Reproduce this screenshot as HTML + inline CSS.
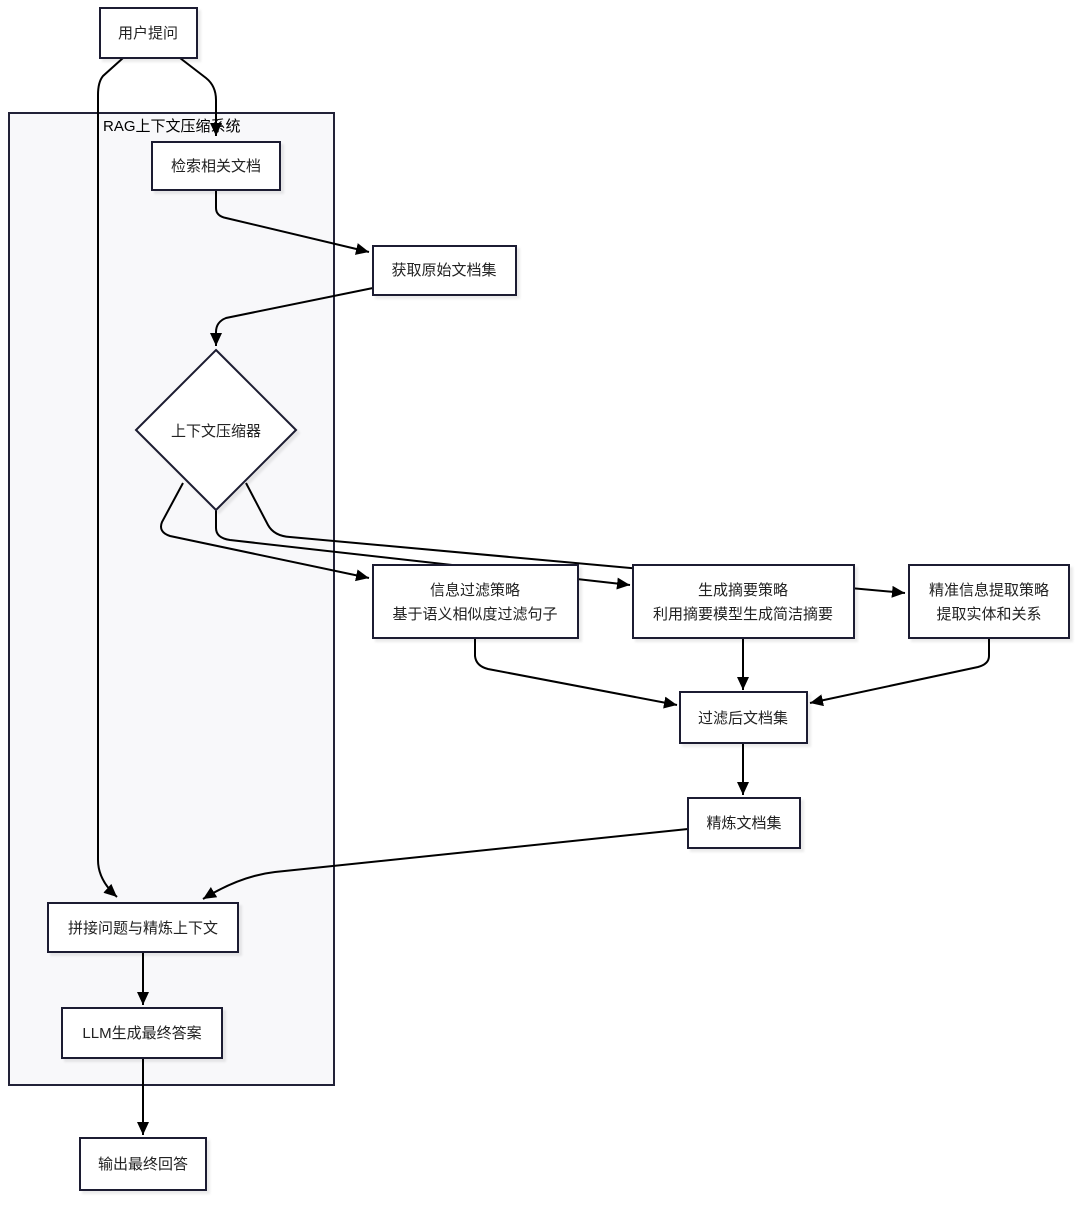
<!DOCTYPE html>
<html><head><meta charset="utf-8"><style>
html,body{margin:0;padding:0;background:#fff;}
text{font-family:"Liberation Sans","Noto Sans CJK SC",sans-serif;font-size:15px;fill:#222;}
</style></head><body>
<svg width="1080" height="1202" viewBox="0 0 1080 1202" xmlns="http://www.w3.org/2000/svg">
<defs>
<marker id="a" markerWidth="14" markerHeight="14" refX="13" refY="6" orient="auto" markerUnits="userSpaceOnUse"><path d="M0,0 L13,6 L0,12 z" fill="#000"/></marker>
<filter id="s" x="-10%" y="-10%" width="130%" height="130%"><feDropShadow dx="3" dy="3" stdDeviation="1" flood-color="#000" flood-opacity="0.08"/></filter>
</defs>
<rect x="9" y="113" width="325" height="972" fill="#f8f8fa" stroke="#222238" stroke-width="2"/>
<text x="103" y="131" style="font-size:15px;fill:#000">RAG上下文压缩系统</text>
<g fill="none" stroke="#000" stroke-width="2">
<path d="M180,58 L206,78 Q216,86 216,100 L216,136" marker-end="url(#a)"/>
<path d="M123,58 L103,76 Q98,82 98,95 L98,860 Q98,880 117,897" marker-end="url(#a)"/>
<path d="M216,190 L216,208 Q216,216 226,218 L369,252" marker-end="url(#a)"/>
<path d="M373,288 L226,318 Q216,322 216,332 L216,346" marker-end="url(#a)"/>
<path d="M183,483 L162,522 Q158,532 170,536 L369,578" marker-end="url(#a)"/>
<path d="M216,510 L216,528 Q216,538 230,540 L630,585" marker-end="url(#a)"/>
<path d="M246,483 L268,525 Q274,536 290,537 L905,593" marker-end="url(#a)"/>
<path d="M475,638 L475,656 Q476,666 488,669 L677,705" marker-end="url(#a)"/>
<path d="M743,638 L743,690" marker-end="url(#a)"/>
<path d="M989,638 L989,656 Q989,664 978,667 L810,703" marker-end="url(#a)"/>
<path d="M743,743 L743,795" marker-end="url(#a)"/>
<path d="M688,829 L275,872 Q240,876 203,899" marker-end="url(#a)"/>
<path d="M143,952 L143,1005" marker-end="url(#a)"/>
<path d="M143,1058 L143,1135" marker-end="url(#a)"/>
</g>
<g fill="#fff" stroke="#1c1c30" stroke-width="2" filter="url(#s)">
<rect x="100" y="8" width="97" height="50"/>
<rect x="152" y="142" width="128" height="48"/>
<rect x="373" y="246" width="143" height="49"/>
<polygon points="216,350 296,430 216,510 136,430"/>
<rect x="373" y="565" width="205" height="73"/>
<rect x="633" y="565" width="221" height="73"/>
<rect x="909" y="565" width="160" height="73"/>
<rect x="680" y="692" width="127" height="51"/>
<rect x="688" y="798" width="112" height="50"/>
<rect x="48" y="903" width="190" height="49"/>
<rect x="62" y="1008" width="160" height="50"/>
<rect x="80" y="1138" width="126" height="52"/>
</g>
<g text-anchor="middle">
<text x="148" y="38">用户提问</text>
<text x="216" y="171">检索相关文档</text>
<text x="444" y="275">获取原始文档集</text>
<text x="216" y="436">上下文压缩器</text>
<text x="475" y="595">信息过滤策略</text>
<text x="475" y="619">基于语义相似度过滤句子</text>
<text x="743" y="595">生成摘要策略</text>
<text x="743" y="619">利用摘要模型生成简洁摘要</text>
<text x="989" y="595">精准信息提取策略</text>
<text x="989" y="619">提取实体和关系</text>
<text x="743" y="723">过滤后文档集</text>
<text x="744" y="828">精炼文档集</text>
<text x="143" y="933">拼接问题与精炼上下文</text>
<text x="142" y="1038">LLM生成最终答案</text>
<text x="143" y="1169">输出最终回答</text>
</g>
</svg>
</body></html>
